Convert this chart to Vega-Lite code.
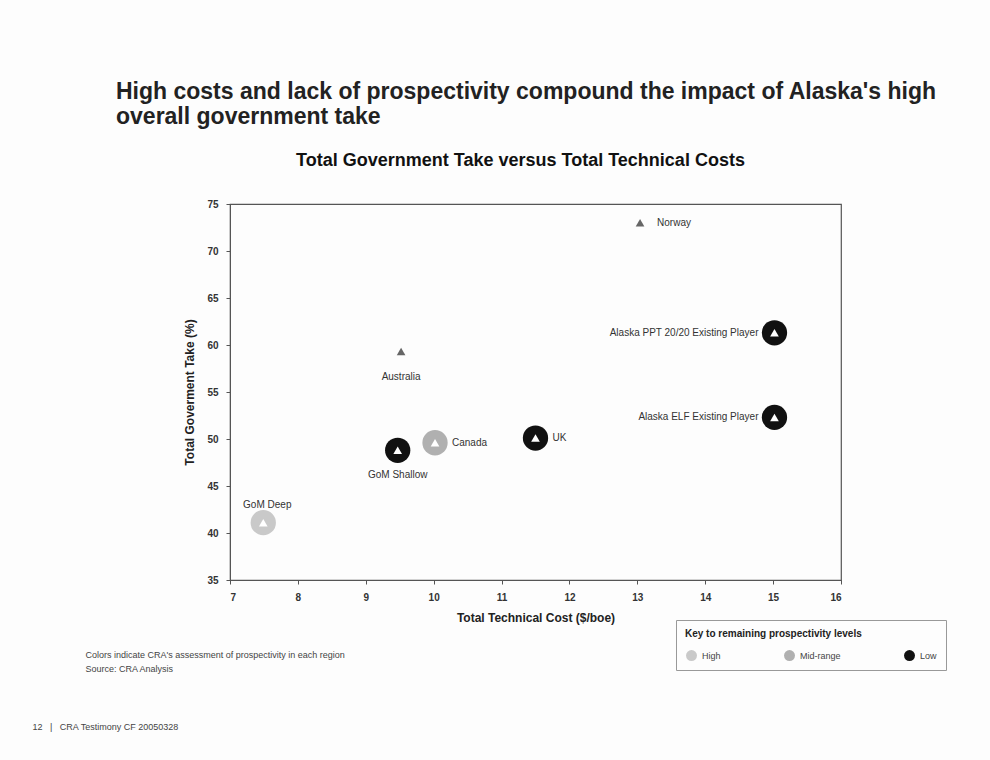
{
  "$schema": "https://vega.github.io/schema/vega-lite/v6.json",
  "autosize": "none",
  "width": 611,
  "height": 376,
  "padding": {"left": 230, "top": 204, "right": 149, "bottom": 180},
  "background": "#fdfdfd",
  "config": {
    "font": "Liberation Sans",
    "view": {"stroke": "#555", "strokeWidth": 1.2}
  },
  "title": {
    "text": ["High costs and lack of prospectivity compound the impact of Alaska's high", "overall government take"],
    "anchor": "start",
    "frame": "group",
    "dx": -114,
    "offset": 22,
    "fontSize": 23,
    "fontWeight": "bold",
    "color": "#222",
    "lineHeight": 25
  },
  "data": {
    "values": [
      {"region": "Norway", "cost": 13.04, "take": 73.0, "prospectivity": null},
      {"region": "Australia", "cost": 9.52, "take": 59.3, "prospectivity": null},
      {"region": "Alaska PPT 20/20  Existing Player", "cost": 15.02, "take": 61.3, "prospectivity": "Low"},
      {"region": "Alaska ELF Existing Player", "cost": 15.02, "take": 52.3, "prospectivity": "Low"},
      {"region": "UK", "cost": 11.5, "take": 50.1, "prospectivity": "Low"},
      {"region": "Canada", "cost": 10.02, "take": 49.6, "prospectivity": "Mid-range"},
      {"region": "GoM Shallow", "cost": 9.47, "take": 48.8, "prospectivity": "Low"},
      {"region": "GoM Deep", "cost": 7.49, "take": 41.1, "prospectivity": "High"}
    ]
  },
  "resolve": {"axis": {"x": "independent"}},
  "layer": [
    {
      "transform": [{"filter": "datum.prospectivity != null"}],
      "mark": {"type": "point", "shape": "circle", "filled": true, "size": 640, "opacity": 1},
      "encoding": {
        "x": {
          "field": "cost", "type": "quantitative",
          "scale": {"domain": [7, 16], "nice": false, "zero": false},
          "axis": {
            "title": "Total Technical Cost ($/boe)",
            "values": [7, 8, 9, 10, 11, 12, 13, 14, 15, 16],
            "grid": false,
            "domainColor": "#555",
            "tickColor": "#555",
            "tickSize": 4,
            "labelPadding": 8,
            "labelFontSize": 10,
            "labelFontWeight": "bold",
            "labelColor": "#333",
            "titleFontSize": 12,
            "titleFontWeight": "bold",
            "titleColor": "#222",
            "titlePadding": 10
          }
        },
        "y": {
          "field": "take", "type": "quantitative",
          "scale": {"domain": [35, 75], "nice": false, "zero": false},
          "axis": {
            "title": "Total Goverment Take (%)",
            "values": [35, 40, 45, 50, 55, 60, 65, 70, 75],
            "grid": false,
            "domainColor": "#555",
            "tickColor": "#555",
            "tickSize": 4,
            "labelPadding": 8,
            "labelFontSize": 10,
            "labelFontWeight": "bold",
            "labelColor": "#333",
            "titleFontSize": 12,
            "titleFontWeight": "bold",
            "titleColor": "#222",
            "titlePadding": 10
          }
        },
        "color": {
          "field": "prospectivity", "type": "nominal",
          "scale": {"domain": ["High", "Mid-range", "Low"], "range": ["#c9c9c9", "#b0b0b0", "#111111"]},
          "legend": {
            "title": "Key to remaining prospectivity levels",
            "orient": "none",
            "legendX": 446,
            "legendY": 416,
            "direction": "horizontal",
            "titleFontSize": 10,
            "titleFontWeight": "bold",
            "titleColor": "#222",
            "titlePadding": 10,
            "labelFontSize": 9,
            "labelColor": "#444",
            "symbolType": "circle",
            "symbolSize": 120,
            "columnPadding": 62,
            "strokeColor": "#999",
            "padding": 9,
            "fillColor": "#fdfdfd"
          }
        }
      }
    },
    {
      "mark": {"type": "point", "shape": "triangle-up", "filled": true, "size": 75, "opacity": 1},
      "encoding": {
        "x": {
          "field": "cost", "type": "quantitative",
          "axis": {
            "orient": "top",
            "labels": false, "ticks": false, "domain": false, "grid": false,
            "title": "Total Government Take versus Total Technical Costs",
            "titleFontSize": 18,
            "titleFontWeight": "bold",
            "titleColor": "#111",
            "titlePadding": 35,
            "titleX": 290
          }
        },
        "y": {"field": "take", "type": "quantitative"},
        "fill": {
          "condition": {"test": "datum.prospectivity != null", "value": "#ffffff"},
          "value": "#666666"
        }
      }
    },
    {
      "mark": {"type": "point", "opacity": 0},
      "encoding": {
        "x": {
          "field": "cost", "type": "quantitative",
          "axis": {
            "orient": "bottom",
            "labels": false, "ticks": false, "domain": false, "grid": false,
            "title": ["Colors indicate CRA's assessment of prospectivity in each region", "Source: CRA Analysis"],
            "titleFontSize": 9,
            "titleFontWeight": "normal",
            "titleColor": "#444",
            "titleAlign": "left",
            "titleBaseline": "top",
            "titleLineHeight": 14,
            "titleX": -145,
            "titleY": 70
          }
        },
        "y": {"field": "take", "type": "quantitative"}
      }
    },
    {
      "mark": {"type": "point", "opacity": 0},
      "encoding": {
        "x": {
          "field": "cost", "type": "quantitative",
          "axis": {
            "orient": "bottom",
            "labels": false, "ticks": false, "domain": false, "grid": false,
            "title": "12\u00a0\u00a0\u00a0|\u00a0\u00a0\u00a0CRA Testimony CF 20050328",
            "titleFontSize": 9,
            "titleFontWeight": "normal",
            "titleColor": "#444",
            "titleAlign": "left",
            "titleBaseline": "top",
            "titleX": -198,
            "titleY": 142
          }
        },
        "y": {"field": "take", "type": "quantitative"}
      }
    },
    {
      "transform": [{"filter": "indexof(['Norway','UK','Canada'], datum.region) >= 0"}],
      "mark": {"type": "text", "align": "left", "baseline": "middle", "dx": 17, "fontSize": 10, "color": "#333"},
      "encoding": {
        "x": {"field": "cost", "type": "quantitative", "axis": null},
        "y": {"field": "take", "type": "quantitative"},
        "text": {"field": "region"}
      }
    },
    {
      "transform": [{"filter": "indexof(datum.region, 'Alaska') >= 0"}],
      "mark": {"type": "text", "align": "right", "baseline": "middle", "dx": -16, "fontSize": 10, "color": "#333"},
      "encoding": {
        "x": {"field": "cost", "type": "quantitative", "axis": null},
        "y": {"field": "take", "type": "quantitative"},
        "text": {"field": "region"}
      }
    },
    {
      "transform": [{"filter": "datum.region == 'Australia' || datum.region == 'GoM Shallow'"}],
      "mark": {"type": "text", "align": "center", "baseline": "middle", "dy": 25, "fontSize": 10, "color": "#333"},
      "encoding": {
        "x": {"field": "cost", "type": "quantitative", "axis": null},
        "y": {"field": "take", "type": "quantitative"},
        "text": {"field": "region"}
      }
    },
    {
      "transform": [{"filter": "datum.region == 'GoM Deep'"}],
      "mark": {"type": "text", "align": "center", "baseline": "middle", "dy": -18, "dx": 4, "fontSize": 10, "color": "#333"},
      "encoding": {
        "x": {"field": "cost", "type": "quantitative", "axis": null},
        "y": {"field": "take", "type": "quantitative"},
        "text": {"field": "region"}
      }
    }
  ]
}
